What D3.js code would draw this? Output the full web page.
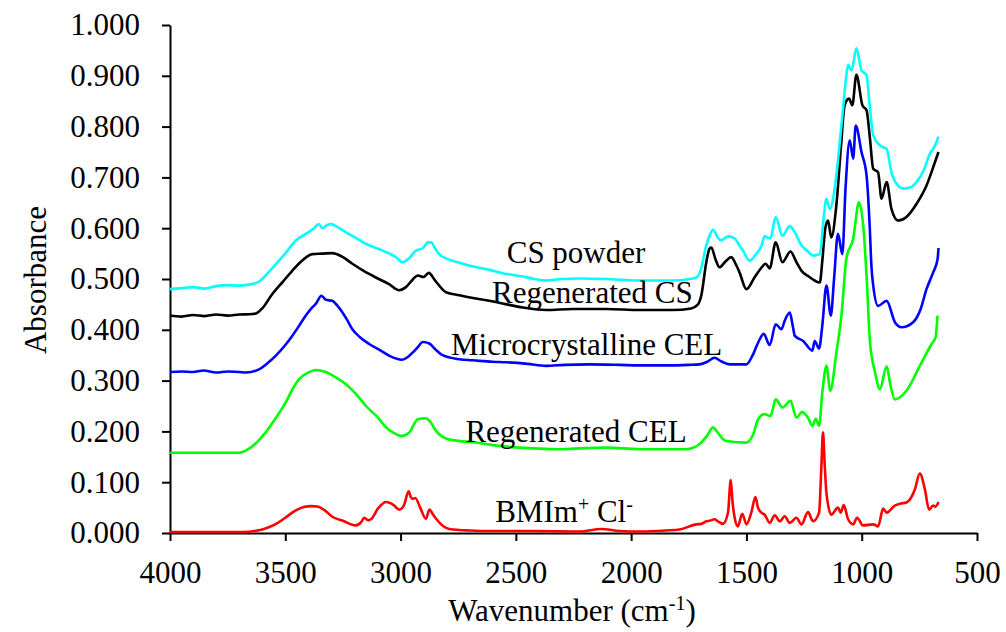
<!DOCTYPE html>
<html>
<head>
<meta charset="utf-8">
<script src="https://cdn.jsdelivr.net/npm/d3@7"></script>
<style>
  body { margin: 0; background: #fff; }
  .axis path, .axis line { stroke: #000; stroke-width: 2px; }
</style>
</head>
<body>
<div id="chart"></div>
<script>
/* DATA: [wavenumber, absorbance] */
const csPowder = [[4000,0.480],[3950,0.482],[3900,0.484],[3850,0.481],[3800,0.486],[3758,0.488],[3700,0.487],[3643,0.490],[3610,0.496],[3585,0.507],[3555,0.522],[3527,0.536],[3490,0.556],[3454,0.576],[3411,0.589],[3375,0.600],[3356,0.608],[3339,0.600],[3320,0.606],[3302,0.608],[3270,0.601],[3237,0.592],[3190,0.580],[3150,0.569],[3100,0.560],[3063,0.553],[3020,0.543],[2991,0.533],[2965,0.540],[2933,0.556],[2905,0.560],[2880,0.572],[2868,0.572],[2850,0.560],[2832,0.549],[2800,0.540],[2745,0.532],[2680,0.524],[2615,0.518],[2540,0.510],[2470,0.505],[2420,0.500],[2369,0.497],[2300,0.500],[2224,0.501],[2108,0.500],[1964,0.497],[1819,0.497],[1746,0.500],[1717,0.503],[1700,0.515],[1674,0.566],[1660,0.585],[1645,0.597],[1625,0.582],[1609,0.576],[1580,0.584],[1551,0.580],[1530,0.566],[1515,0.556],[1486,0.536],[1460,0.548],[1435,0.565],[1421,0.584],[1396,0.580],[1373,0.622],[1344,0.585],[1312,0.604],[1290,0.592],[1261,0.566],[1235,0.555],[1211,0.546],[1182,0.549],[1165,0.620],[1153,0.658],[1139,0.638],[1110,0.704],[1095,0.770],[1081,0.835],[1067,0.900],[1059,0.921],[1044,0.911],[1023,0.954],[1001,0.911],[979,0.901],[965,0.840],[950,0.783],[921,0.763],[892,0.756],[871,0.710],[845,0.685],[820,0.678],[790,0.680],[762,0.691],[730,0.715],[704,0.747],[685,0.760],[667,0.780]];

const regenCS = [[4000,0.428],[3950,0.426],[3900,0.429],[3850,0.427],[3800,0.430],[3750,0.428],[3700,0.430],[3643,0.431],[3620,0.434],[3600,0.442],[3557,0.470],[3510,0.495],[3470,0.516],[3430,0.535],[3383,0.549],[3340,0.550],[3296,0.551],[3250,0.543],[3209,0.530],[3160,0.516],[3107,0.503],[3050,0.490],[3006,0.478],[2977,0.484],[2945,0.500],[2926,0.507],[2900,0.504],[2878,0.512],[2850,0.497],[2803,0.474],[2745,0.468],[2680,0.462],[2615,0.457],[2540,0.450],[2470,0.444],[2369,0.439],[2253,0.441],[2108,0.441],[1964,0.439],[1819,0.439],[1740,0.442],[1710,0.450],[1696,0.467],[1674,0.533],[1660,0.560],[1652,0.562],[1635,0.540],[1617,0.523],[1590,0.535],[1566,0.543],[1545,0.528],[1530,0.513],[1500,0.480],[1465,0.503],[1430,0.525],[1417,0.530],[1399,0.521],[1373,0.572],[1344,0.533],[1309,0.554],[1283,0.533],[1261,0.516],[1230,0.505],[1204,0.497],[1182,0.493],[1170,0.540],[1158,0.600],[1146,0.615],[1132,0.582],[1110,0.645],[1090,0.760],[1074,0.842],[1055,0.855],[1041,0.842],[1023,0.902],[997,0.842],[979,0.832],[965,0.780],[950,0.717],[929,0.710],[914,0.658],[892,0.691],[871,0.638],[842,0.615],[806,0.622],[762,0.648],[719,0.684],[690,0.720],[667,0.750]];

const mcCEL = [[4000,0.317],[3950,0.318],[3900,0.317],[3855,0.320],[3800,0.316],[3750,0.318],[3700,0.317],[3671,0.316],[3614,0.322],[3580,0.333],[3541,0.349],[3500,0.370],[3470,0.388],[3440,0.408],[3411,0.428],[3385,0.443],[3368,0.451],[3343,0.467],[3324,0.459],[3296,0.457],[3275,0.448],[3252,0.434],[3230,0.418],[3209,0.401],[3175,0.385],[3136,0.372],[3090,0.360],[3049,0.349],[2994,0.341],[2970,0.346],[2948,0.355],[2925,0.366],[2904,0.376],[2875,0.373],[2850,0.362],[2818,0.350],[2745,0.342],[2687,0.340],[2601,0.337],[2542,0.336],[2450,0.333],[2369,0.329],[2290,0.331],[2181,0.332],[2050,0.331],[1964,0.330],[1850,0.330],[1750,0.331],[1703,0.332],[1670,0.337],[1638,0.345],[1610,0.338],[1572,0.332],[1500,0.332],[1475,0.348],[1449,0.375],[1425,0.392],[1399,0.370],[1373,0.411],[1348,0.401],[1334,0.418],[1312,0.434],[1300,0.410],[1290,0.388],[1254,0.378],[1214,0.359],[1204,0.378],[1185,0.363],[1171,0.408],[1153,0.487],[1134,0.428],[1120,0.500],[1103,0.589],[1084,0.549],[1070,0.680],[1052,0.773],[1037,0.737],[1026,0.802],[1001,0.750],[979,0.704],[965,0.600],[958,0.526],[950,0.487],[929,0.447],[892,0.457],[856,0.415],[827,0.405],[777,0.415],[745,0.440],[719,0.480],[690,0.513],[671,0.539],[667,0.561]];

const regenCEL = [[4000,0.158],[3850,0.158],[3700,0.158],[3657,0.166],[3620,0.180],[3585,0.198],[3540,0.227],[3498,0.257],[3470,0.282],[3440,0.303],[3400,0.316],[3368,0.321],[3324,0.317],[3280,0.306],[3237,0.293],[3190,0.272],[3150,0.250],[3100,0.228],[3063,0.208],[3030,0.197],[2998,0.191],[2962,0.198],[2926,0.224],[2890,0.226],[2870,0.218],[2846,0.201],[2789,0.184],[2673,0.178],[2600,0.173],[2514,0.169],[2400,0.166],[2311,0.165],[2200,0.167],[2108,0.168],[1964,0.165],[1850,0.165],[1761,0.165],[1720,0.170],[1703,0.175],[1670,0.192],[1645,0.208],[1625,0.198],[1600,0.184],[1587,0.181],[1500,0.178],[1470,0.195],[1449,0.224],[1421,0.234],[1396,0.230],[1373,0.263],[1344,0.247],[1309,0.260],[1283,0.227],[1259,0.238],[1233,0.227],[1214,0.211],[1199,0.225],[1185,0.211],[1171,0.276],[1153,0.329],[1136,0.280],[1110,0.355],[1088,0.428],[1066,0.542],[1037,0.579],[1012,0.651],[991,0.592],[979,0.507],[964,0.375],[942,0.316],[921,0.283],[892,0.328],[875,0.290],[856,0.263],[806,0.280],[748,0.329],[697,0.372],[680,0.385],[671,0.428]];

const bmim = [[4000,0.002],[3850,0.002],[3686,0.002],[3620,0.005],[3580,0.010],[3540,0.018],[3500,0.030],[3460,0.043],[3420,0.051],[3389,0.053],[3360,0.052],[3330,0.045],[3296,0.032],[3250,0.024],[3194,0.015],[3170,0.022],[3158,0.030],[3140,0.025],[3129,0.027],[3095,0.050],[3063,0.061],[3030,0.055],[3006,0.046],[2985,0.055],[2965,0.082],[2955,0.070],[2948,0.067],[2936,0.069],[2915,0.050],[2890,0.028],[2875,0.046],[2860,0.037],[2846,0.028],[2789,0.008],[2700,0.005],[2601,0.004],[2400,0.004],[2224,0.003],[2130,0.008],[2050,0.004],[1964,0.003],[1850,0.005],[1790,0.007],[1717,0.017],[1696,0.018],[1674,0.023],[1660,0.024],[1638,0.027],[1624,0.023],[1602,0.018],[1580,0.040],[1568,0.104],[1560,0.060],[1551,0.030],[1537,0.013],[1518,0.038],[1500,0.017],[1479,0.040],[1461,0.071],[1450,0.050],[1435,0.040],[1421,0.036],[1399,0.020],[1377,0.035],[1355,0.023],[1334,0.033],[1312,0.020],[1283,0.030],[1261,0.017],[1233,0.041],[1211,0.023],[1185,0.040],[1175,0.130],[1168,0.198],[1160,0.130],[1153,0.079],[1132,0.036],[1103,0.050],[1091,0.040],[1078,0.055],[1059,0.027],[1037,0.017],[1020,0.030],[994,0.015],[950,0.017],[929,0.013],[907,0.048],[892,0.040],[856,0.054],[830,0.058],[806,0.060],[770,0.085],[748,0.117],[726,0.086],[708,0.046],[690,0.054],[680,0.052],[667,0.061]];

const xTicks = [4000, 3500, 3000, 2500, 2000, 1500, 1000, 500];
const yTicks = [0, 0.1, 0.2, 0.3, 0.4, 0.5, 0.6, 0.7, 0.8, 0.9, 1.0];

// series: name, data, colour; labels placed in data units (wavenumber, absorbance)
const series = [
  { key: "bmim", data: bmim, color: "#ff0000" },
  { key: "regenCEL", data: regenCEL, color: "#00ff00" },
  { key: "mcCEL", data: mcCEL, color: "#0000ff" },
  { key: "regenCS", data: regenCS, color: "#000000" },
  { key: "csPowder", data: csPowder, color: "#00ffff" }
];
const labels = [
  { text: "CS powder", wn: 2239, abs: 0.531 },
  { text: "Regenerated CS", wn: 2168, abs: 0.453 },
  { text: "Microcrystalline CEL", wn: 2193, abs: 0.350 },
  { text: "Regenerated CEL", wn: 2239, abs: 0.180 }
];

/* CONSTANTS */
const width = 1006,
  height = 632,
  margin = { top: 25, bottom: 99, left: 170, right: 29 },
  font = '"Liberation Serif", "Times New Roman", Tinos, serif';

const svg = d3.select("#chart").append("svg")
  .attr("width", width)
  .attr("height", height);

// SCALES (wavenumber decreases to the right)
const xScale = d3.scaleLinear()
  .domain([4000, 500])
  .range([margin.left, width - margin.right]);
const yScale = d3.scaleLinear()
  .domain([0, 1])
  .range([height - margin.bottom, margin.top]);

// AXES
svg.append("g")
  .attr("class", "axis")
  .attr("transform", `translate(0, ${height - margin.bottom})`)
  .call(d3.axisBottom(xScale).tickValues(xTicks).tickFormat(d3.format("d")).tickSize(8).tickSizeOuter(0).tickPadding(20));

svg.append("g")
  .attr("class", "axis")
  .attr("transform", `translate(${margin.left}, 0)`)
  .call(d3.axisLeft(yScale).tickValues(yTicks).tickFormat(d3.format(".3f")).tickSize(8).tickSizeOuter(0).tickPadding(22));

svg.selectAll(".axis text")
  .style("font-family", font)
  .style("font-size", "31px")
  .attr("fill", "#000");

// axis titles
const xTitle = svg.append("text")
  .attr("x", 572)
  .attr("y", 621)
  .attr("text-anchor", "middle");
xTitle.append("tspan").text("Wavenumber (cm");
xTitle.append("tspan").attr("dy", -11).style("font-size", "20px").text("-1");
xTitle.append("tspan").attr("dy", 11).text(")");

svg.append("text")
  .attr("transform", "translate(46, 280) rotate(-90)")
  .attr("text-anchor", "middle")
  .text("Absorbance");

// LINES
const line = d3.line()
  .x(d => xScale(d[0]))
  .y(d => yScale(d[1]))
  .curve(d3.curveMonotoneX);

svg.selectAll("path.spectrum")
  .data(series, d => d.key)
  .join("path")
  .attr("class", "spectrum")
  .attr("fill", "none")
  .attr("stroke", d => d.color)
  .attr("stroke-width", 2.6)
  .attr("stroke-linejoin", "round")
  .attr("d", d => line(d.data));

// SERIES LABELS
svg.selectAll("text.series")
  .data(labels)
  .join("text")
  .attr("class", "series")
  .attr("x", d => xScale(d.wn))
  .attr("y", d => yScale(d.abs))
  .attr("text-anchor", "middle")
  .text(d => d.text);

const bm = svg.append("text")
  .attr("x", xScale(2291))
  .attr("y", yScale(0.022))
  .attr("text-anchor", "middle");
bm.append("tspan").text("BMIm");
bm.append("tspan").attr("dy", -11).style("font-size", "20px").text("+");
bm.append("tspan").attr("dy", 11).text(" Cl");
bm.append("tspan").attr("dy", -11).style("font-size", "20px").text("-");

// shared text style for titles and series labels
svg.selectAll("svg > text")
  .style("font-family", font)
  .attr("fill", "#000")
  .filter(function() { return !this.style.fontSize; })
  .style("font-size", "31px");
</script>
</body>
</html>
